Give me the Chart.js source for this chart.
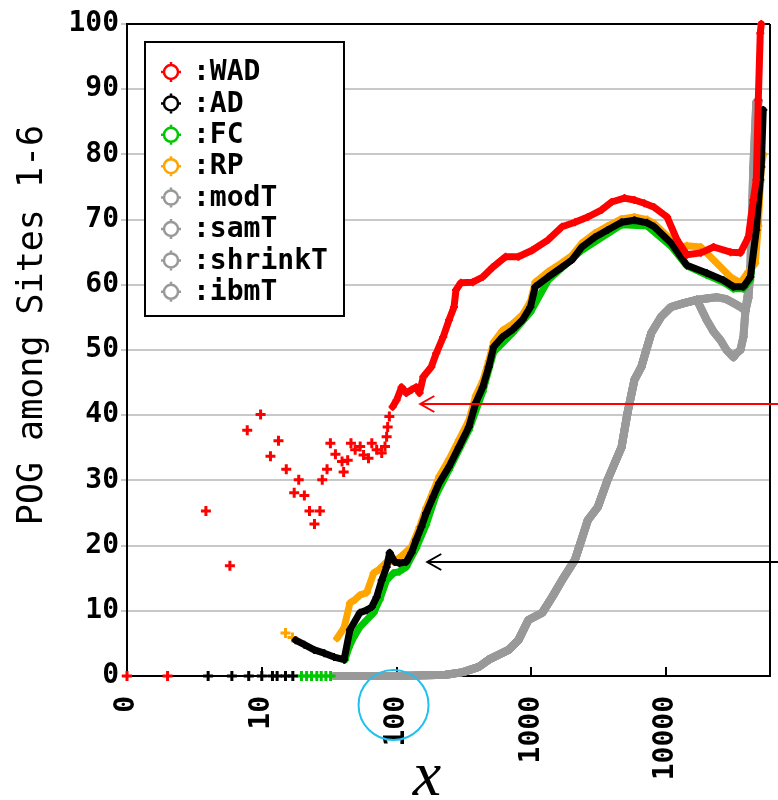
<!DOCTYPE html>
<html>
<head>
<meta charset="utf-8">
<script src="https://cdn.jsdelivr.net/npm/chart.js@4"></script>
<style>
  html, body { margin: 0; padding: 0; background: #fff; }
</style>
</head>
<body>
<canvas id="graph" width="778" height="800"></canvas>
<script>
// x axis is logarithmic, value 1 is labelled "0"
const xTickValues = [1, 10, 100, 1000, 10000];
const xTickLabels = ['0', '10', '100', '1000', '10000'];

const seriesNames = ['WAD', 'AD', 'FC', 'RP', 'modT', 'samT', 'shrinkT', 'ibmT'];
const seriesColors = ['#ff0000', '#000000', '#00c800', '#ffa500', '#999999', '#999999', '#999999', '#999999'];

// WAD: scattered points at small x, then a dense curve
const wadSparseX = [1, 2, 3.85, 5.8, 7.8, 9.8, 11.6, 13.3, 15.2, 17.4, 18.8, 20.7, 22.6, 24.6, 27.0, 28.1, 30.5, 32.3,
  35.2, 39.4, 40.5, 43.4, 45.9, 49.3, 53.7, 56.9, 61.9, 65.5, 71.2, 77.6, 82.1, 84.4, 85.9, 88.4];
const wadSparseY = [0, 0, 25.3, 16.9, 37.7, 40.1, 33.7, 36.1, 31.7, 28.1, 30.1, 27.7, 25.3, 23.3, 25.3, 30.1, 31.7, 35.7,
  34.0, 32.9, 31.3, 33.1, 35.7, 34.7, 35.2, 33.9, 33.4, 35.7, 34.7, 34.2, 35.2, 36.7, 38.2, 39.8];
const wadX = [93.5, 100, 109, 118, 129, 140, 148, 158, 181, 197, 222, 245, 267, 276, 300, 368, 436, 517, 644, 802,
  1016, 1334, 1690, 2106, 2625, 3329, 3942, 4911, 5818, 6890, 8160, 10170, 12050, 14260, 18080, 22520, 30060,
  35600, 40780, 44370, 46690, 48300, 49960, 50820];
const wadY = [41.3, 42.3, 44.3, 43.4, 43.9, 44.3, 43.4, 45.9, 47.4, 49.5, 52.0, 54.6, 56.6, 59.2, 60.3, 60.4, 61.2, 62.7, 64.3, 64.3,
  65.3, 66.9, 68.9, 69.6, 70.4, 71.5, 72.7, 73.3, 73.0, 72.5, 71.9, 70.4, 66.9, 64.6, 64.9, 65.8, 65.0,
  64.9, 67.3, 73.0, 76.1, 88.3, 98.6, 100];

// AD
const adSparseX = [4, 6, 8, 10, 12, 13, 15, 17];
const adSparseY = [0, 0, 0, 0, 0, 0, 0, 0];
const adX = [17.8, 20.7, 24.5, 29.1, 34.4, 40.8, 45.1, 53.4, 60.1, 65.5, 71.2, 77.6, 84.4, 88.9, 96.7, 105, 118, 129, 140,
  153, 166, 187, 207, 245, 290, 344, 387, 436, 483, 526, 612, 725, 859, 984, 1070, 1334, 1690, 2000, 2372, 2958,
  3683, 4670, 5818, 7250, 8160, 10890, 14260, 20010, 26670, 31620, 37470, 42190, 46690, 49960, 50820, 52570];
const adY = [5.5, 4.8, 4.0, 3.5, 2.9, 2.5, 7.1, 9.7, 10.1, 10.6, 12.1, 14.7, 16.7, 18.9, 17.5, 17.3, 17.5, 18.9, 20.9,
  22.9, 25.0, 27.5, 29.6, 32.1, 35.1, 38.2, 41.9, 44.3, 47.4, 50.5, 52.0, 53.1, 54.6, 56.6, 59.7, 61.2, 62.7, 63.8, 65.8, 67.3,
  68.4, 69.6, 69.9, 69.5, 68.9, 66.4, 63.0, 61.8, 60.7, 59.7, 59.7, 61.2, 68.4, 76.1, 78.1, 86.8];

// FC
const fcSparseX = [19.7, 21.5, 23.4, 25.6, 27.6, 29.9, 32.4];
const fcSparseY = [0, 0, 0, 0, 0, 0, 0];
const fcX = [41.5, 44.4, 48.3, 53.4, 60.1, 67.7, 75, 84.4, 95.1, 105, 118, 140, 166, 197, 245, 344, 436, 526, 725, 984,
  1334, 2372, 4670, 7250, 10890, 14260, 20010, 26670, 31620, 37470, 42190, 46690, 49960];
const fcY = [2.5, 4.4, 6.0, 7.5, 8.6, 9.7, 11.7, 14.7, 15.8, 16.0, 16.7, 19.6, 23.2, 27.8, 31.6, 37.7, 43.6, 49.7, 52.6, 55.8,
  60.7, 65.3, 69.2, 69.0, 65.9, 62.9, 61.5, 60.4, 59.4, 59.4, 60.8, 68.0, 75.8];

// RP
const rpSparseX = [15.0, 16.9];
const rpSparseY = [6.6, 5.9];
const rpX = [36.2, 40.8, 45.1, 49.1, 53.4, 60.1, 67.7, 73.7, 84.4, 96.7, 109, 129, 148, 166, 187, 207, 245, 290, 344, 387,
  436, 483, 526, 612, 725, 859, 984, 1070, 1334, 1690, 2000, 2372, 2958, 3683, 4670, 5818, 7250, 8160, 10890, 12050,
  14260, 18080, 22520, 30060, 35600, 40780, 45900, 48300, 50820, 52570];
const rpY = [5.8, 7.4, 11.2, 11.7, 12.4, 12.8, 15.8, 16.3, 17.5, 17.6, 18.4, 19.8, 22.8, 25.8, 28.3, 30.6, 33.2, 36.2, 39.2, 43.0,
  45.2, 48.3, 51.2, 53.0, 54.0, 55.4, 57.4, 60.4, 62.0, 63.4, 64.5, 66.4, 67.9, 69.0, 70.1, 70.4, 70.0, 69.4, 66.9, 65.5,
  66.0, 65.8, 63.8, 61.2, 60.3, 62.0, 63.3, 69.0, 78.0, 80.0];

// grey curves (two pairs overlap)
const grayUpperX = [35, 100, 233, 311, 408, 483, 678, 802, 951, 1205, 1426, 1690, 2106, 2625, 3112, 3683, 4670, 5164,
  5818, 6550, 7760, 9190, 10890, 13560, 16900, 20010, 23690, 28050, 31620, 35600, 38760, 40780, 42190, 44370, 46690, 48300];
const grayUpperY = [0, 0, 0.2, 0.6, 1.4, 2.5, 4.0, 5.5, 8.6, 9.7, 12.1, 14.7, 17.8, 23.9, 25.9, 30.1, 35.1, 40.3,
  45.4, 47.4, 52.6, 55.1, 56.6, 57.2, 57.7, 57.9, 58.1, 57.8, 57.2, 56.6, 56.0, 58.0, 62.0, 68.0, 80.7, 88.0];
const grayLowerX = [35, 100, 233, 311, 408, 483, 678, 802, 951, 1205, 1426, 1690, 2106, 2625, 3112, 3683, 4670, 5164,
  5818, 6550, 7760, 9190, 10890, 13560, 16900, 20010, 22520, 25350, 28050, 31620, 33300, 35600, 37470, 38760, 40780,
  42190, 44370, 46690, 48300];
const grayLowerY = [0, 0, 0.2, 0.6, 1.4, 2.5, 4.0, 5.5, 8.6, 9.7, 12.1, 14.7, 17.8, 23.9, 25.9, 30.1, 35.1, 40.3,
  45.4, 47.4, 52.6, 55.1, 56.6, 57.2, 57.7, 54.6, 52.8, 51.5, 50.0, 48.9, 49.5, 50.0, 52.0, 56.0, 59.2,
  62.7, 78.0, 88.0, 88.3];

// arrows drawn on the plot (value coords)
const arrows = [
  { y: 41.7, tipX: 150, color: '#ff0000' },
  { y: 17.5, tipX: 169, color: '#000000' }
];

const pts = (xs, ys) => xs.map((x, i) => ({ x: x, y: ys[i] }));

function sparse(xs, ys, color) {
  return {
    data: pts(xs, ys), showLine: false, clip: false,
    pointStyle: 'cross', pointRadius: 5, pointBorderWidth: 3,
    borderColor: color, backgroundColor: color
  };
}
function dense(xs, ys, color, w) {
  return {
    data: pts(xs, ys), showLine: true, clip: false, tension: 0,
    borderWidth: w, borderColor: color, backgroundColor: color,
    pointStyle: 'cross', pointRadius: 4, pointBorderWidth: 2, borderJoinStyle: 'round', borderCapStyle: 'round'
  };
}

// first dataset ends up on top
const datasets = [
  dense(wadX, wadY, seriesColors[0], 7),
  sparse(wadSparseX, wadSparseY, seriesColors[0]),
  dense(adX, adY, seriesColors[1], 7),
  sparse(adSparseX, adSparseY, seriesColors[1]),
  dense(rpX, rpY, seriesColors[3], 7),
  sparse(rpSparseX, rpSparseY, seriesColors[3]),
  dense(fcX, fcY, seriesColors[2], 7),
  sparse(fcSparseX, fcSparseY, seriesColors[2]),
  dense(grayUpperX, grayUpperY, seriesColors[4], 8),
  dense(grayUpperX, grayUpperY, seriesColors[5], 8),
  dense(grayLowerX, grayLowerY, seriesColors[6], 8),
  dense(grayLowerX, grayLowerY, seriesColors[7], 8)
];

const decor = {
  id: 'decor',
  beforeDatasetsDraw(chart) {
    const { ctx, chartArea: a, scales } = chart;
    ctx.save();
    ctx.strokeStyle = '#000';
    ctx.lineWidth = 2;
    ctx.beginPath();
    ctx.moveTo(a.left, a.top); ctx.lineTo(a.right, a.top);
    ctx.moveTo(a.right, a.top); ctx.lineTo(a.right, a.bottom);
    // inner tick marks on the x axis
    xTickValues.slice(1).forEach(v => {
      const px = Math.round(scales.x.getPixelForValue(v));
      ctx.moveTo(px, a.bottom); ctx.lineTo(px, a.bottom - 9);
    });
    ctx.stroke();
    ctx.restore();
  },
  afterDatasetsDraw(chart) {
    const { ctx, chartArea: a, scales } = chart;
    ctx.save();

    // arrows
    arrows.forEach(ar => {
      const y = Math.round(scales.y.getPixelForValue(ar.y));
      const tip = scales.x.getPixelForValue(ar.tipX);
      ctx.strokeStyle = ar.color;
      ctx.lineWidth = 2;
      ctx.beginPath();
      ctx.moveTo(chart.width, y); ctx.lineTo(tip, y);
      ctx.moveTo(tip + 14, y - 8); ctx.lineTo(tip, y); ctx.lineTo(tip + 14, y + 8);
      ctx.stroke();
    });

    // cyan ring round the "100" label
    ctx.strokeStyle = '#22c0ee';
    ctx.lineWidth = 2;
    ctx.beginPath();
    ctx.arc(scales.x.getPixelForValue(100) - 3, a.bottom + 29, 35, 0, Math.PI * 2);
    ctx.stroke();

    // legend
    const lx = 145, ly = 42, lw = 199, lh = 274;
    ctx.fillStyle = '#fff';
    ctx.fillRect(lx, ly, lw, lh);
    ctx.strokeStyle = '#000';
    ctx.lineWidth = 2;
    ctx.strokeRect(lx, ly, lw, lh);
    ctx.font = 'bold 28px "DejaVu Sans Mono"';
    ctx.textBaseline = 'middle';
    ctx.textAlign = 'left';
    seriesNames.forEach((name, i) => {
      const cy = 72 + i * 31.4, cx = 171;
      ctx.strokeStyle = seriesColors[i];
      ctx.lineWidth = 2.5;
      ctx.beginPath();
      ctx.arc(cx, cy, 7, 0, Math.PI * 2);
      ctx.moveTo(cx, cy - 7); ctx.lineTo(cx, cy - 10);
      ctx.moveTo(cx, cy + 7); ctx.lineTo(cx, cy + 10);
      ctx.moveTo(cx - 7, cy); ctx.lineTo(cx - 10, cy);
      ctx.moveTo(cx + 7, cy); ctx.lineTo(cx + 10, cy);
      ctx.stroke();
      ctx.fillStyle = '#000';
      ctx.fillText(':' + name, 193, cy + 1);
    });

    // axis titles
    ctx.fillStyle = '#000';
    ctx.textAlign = 'center';
    ctx.textBaseline = 'alphabetic';
    ctx.font = 'italic 64px "Liberation Serif"';
    ctx.fillText('x', 427, 795);
    ctx.translate(42, 325);
    ctx.rotate(-Math.PI / 2);
    ctx.font = '35px "DejaVu Sans Mono"';
    ctx.fillText('POG among Sites 1-6', 0, 0);
    ctx.restore();
  }
};

new Chart(document.getElementById('graph'), {
  type: 'scatter',
  data: { datasets: datasets },
  plugins: [decor],
  options: {
    responsive: false,
    animation: false,
    devicePixelRatio: 1,
    layout: { padding: { top: 24, right: 1, left: 0, bottom: 0 } },
    plugins: { legend: { display: false }, tooltip: { enabled: false } },
    scales: {
      x: {
        type: 'logarithmic',
        min: 1,
        max: 59000,
        afterBuildTicks: s => { s.ticks = xTickValues.map(v => ({ value: v })); },
        afterFit: s => { s.height = 124; },
        grid: { display: false },
        border: { display: true, color: '#000', width: 2 },
        ticks: {
          autoSkip: false,
          minRotation: 90,
          maxRotation: 90,
          padding: 12,
          color: '#000',
          font: { family: 'DejaVu Sans Mono', size: 28, weight: 'bold' },
          callback: v => xTickLabels[xTickValues.indexOf(v)]
        }
      },
      y: {
        min: 0,
        max: 100,
        afterFit: s => { s.width = 127; },
        grid: { color: '#c8c8c8', lineWidth: 2, tickLength: 6, tickColor: '#c8c8c8' },
        border: { display: true, color: '#000', width: 2 },
        ticks: {
          stepSize: 10,
          padding: 2,
          color: '#000',
          font: { family: 'DejaVu Sans Mono', size: 28, weight: 'bold' }
        }
      }
    }
  }
});
</script>
</body>
</html>
